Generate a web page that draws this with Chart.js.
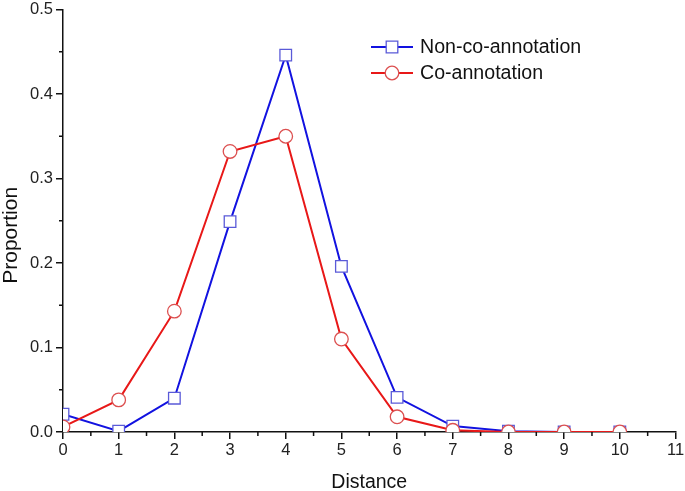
<!DOCTYPE html>
<html>
<head>
<meta charset="utf-8">
<script src="https://cdn.jsdelivr.net/npm/chart.js@4/dist/chart.umd.min.js"></script>
<style>
  html, body { margin: 0; padding: 0; background: #fff; }
  #wrap { width: 685px; height: 491px; }
</style>
</head>
<body>
<div id="wrap"><canvas id="dist-chart"></canvas></div>
<script>
// values
const distances = [0, 1, 2, 3, 4, 5, 6, 7, 8, 9, 10];
const nonCoAnnotation = [0.021, 0.001, 0.040, 0.249, 0.446, 0.196, 0.041, 0.007, 0.001, 0.0, 0.0];
const coAnnotation = [0.006, 0.038, 0.143, 0.332, 0.350, 0.110, 0.018, 0.002, 0.0, 0.0, 0.0];
const seriesNames = ['Non-co-annotation', 'Co-annotation'];

const blueLine = '#1212e0';
const blueMark = '#5a5ad8';
const redLine = '#e81818';
const redMark = '#dc5050';
const fontFam = '"Liberation Sans", Arial, sans-serif';

// minor ticks between the major ones (Chart.js has none)
const minorTicks = {
  id: 'minorTicks',
  afterDraw(chart) {
    const ctx = chart.ctx;
    const xs = chart.scales.x, ys = chart.scales.y;
    ctx.save();
    ctx.strokeStyle = '#111';
    ctx.lineWidth = 1.5;
    ctx.beginPath();
    for (let v = 0.5; v < 11; v += 1) {
      const px = xs.getPixelForValue(v);
      ctx.moveTo(px, ys.bottom);
      ctx.lineTo(px, ys.bottom + 4);
    }
    for (let v = 0.05; v < 0.5; v += 0.1) {
      const py = ys.getPixelForValue(v);
      ctx.moveTo(xs.left, py);
      ctx.lineTo(xs.left - 4, py);
    }
    ctx.stroke();
    ctx.restore();
  }
};

// legend drawn inside the plot, as in the figure
const innerLegend = {
  id: 'innerLegend',
  afterDraw(chart) {
    const ctx = chart.ctx;
    const items = [
      { name: seriesNames[0], line: blueLine, mark: blueMark, style: 'rect', y: 47 },
      { name: seriesNames[1], line: redLine, mark: redMark, style: 'circle', y: 73 }
    ];
    ctx.save();
    items.forEach(it => {
      ctx.strokeStyle = it.line;
      ctx.lineWidth = 2;
      ctx.beginPath();
      ctx.moveTo(371, it.y);
      ctx.lineTo(413, it.y);
      ctx.stroke();
      ctx.fillStyle = '#fff';
      ctx.strokeStyle = it.mark;
      ctx.lineWidth = 1.3;
      Chart.helpers.drawPoint(ctx, {
        pointStyle: it.style,
        radius: it.style === 'rect' ? 8.2 : 6.8,
        borderWidth: 1.3
      }, 392, it.y);
      ctx.fillStyle = '#111';
      ctx.font = '19.6px ' + fontFam;
      ctx.textBaseline = 'middle';
      ctx.fillText(it.name, 420, it.y + 1);
    });
    ctx.restore();
  }
};

new Chart(document.getElementById('dist-chart'), {
  type: 'line',
  data: {
    labels: distances,
    datasets: [
      {
        label: seriesNames[0],
        data: distances.map((d, i) => ({ x: d, y: nonCoAnnotation[i] })),
        borderColor: blueLine,
        borderWidth: 2,
        pointStyle: 'rect',
        pointRadius: 8.2,
        pointBorderColor: blueMark,
        pointBackgroundColor: '#fff',
        pointBorderWidth: 1.3,
        order: 1
      },
      {
        label: seriesNames[1],
        data: distances.map((d, i) => ({ x: d, y: coAnnotation[i] })),
        borderColor: redLine,
        borderWidth: 2,
        pointStyle: 'circle',
        pointRadius: 6.8,
        pointBorderColor: redMark,
        pointBackgroundColor: '#fff',
        pointBorderWidth: 1.3,
        order: 0
      }
    ]
  },
  options: {
    responsive: true,
    maintainAspectRatio: false,
    animation: false,
    layout: { padding: { left: 0, top: 9, right: 8, bottom: 0 } },
    plugins: {
      legend: { display: false },
      tooltip: { enabled: false }
    },
    scales: {
      x: {
        type: 'linear',
        min: 0,
        max: 11,
        afterFit(s) { s.height = 59; s.paddingRight = 0; },
        border: { color: '#111', width: 1.5 },
        grid: { drawOnChartArea: false, color: '#111', lineWidth: 1.5, tickLength: 7 },
        ticks: {
          stepSize: 1,
          padding: 2,
          color: '#222',
          font: { family: fontFam, size: 16.5 }
        },
        title: {
          display: true,
          text: 'Distance',
          color: '#111',
          padding: { top: 0, bottom: -3 },
          font: { family: fontFam, size: 19.5 }
        }
      },
      y: {
        min: 0,
        max: 0.5,
        afterFit(s) { s.width = 63; s.paddingTop = 0; },
        border: { color: '#111', width: 1.5 },
        grid: { drawOnChartArea: false, color: '#111', lineWidth: 1.5, tickLength: 7 },
        ticks: {
          stepSize: 0.1,
          padding: 3,
          color: '#222',
          font: { family: fontFam, size: 16.5 },
          callback: v => v.toFixed(1)
        },
        title: {
          display: true,
          text: 'Proportion     ',
          color: '#111',
          padding: { top: -1, bottom: 0 },
          font: { family: fontFam, size: 21 }
        }
      }
    }
  },
  plugins: [minorTicks, innerLegend]
});
</script>
</body>
</html>
